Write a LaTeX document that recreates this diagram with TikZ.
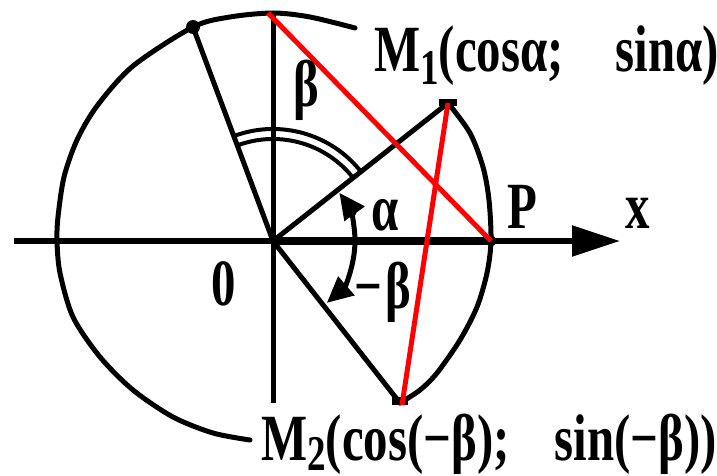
\documentclass[tikz,border=0pt]{standalone}
\usepackage{fontspec}
\setmainfont[FakeStretch=0.74]{Liberation Serif}
\usetikzlibrary{arrows.meta}
\begin{document}
\begin{tikzpicture}[x=1pt,y=-1pt, line join=round,
  ln/.style={line width=5pt, line cap=round},
  redln/.style={red, line width=5pt, line cap=butt},
  lab/.style={anchor=base west, inner sep=0pt, font=\fontsize{66}{78}\selectfont\bfseries},
  tip/.style={-{Triangle[length=26pt,width=24pt]}},
  bigtip/.style={-{Triangle[length=48pt,width=30pt]}},
  dot/.style={circle, fill, inner sep=0pt, minimum size=14pt}]
\useasboundingbox (0,0) rectangle (717,476);
\begin{scope}
\clip (0,0) rectangle (717,476);
% points
\coordinate (O) at (273,241);
\coordinate (P) at (491,241);
\coordinate (M1) at (448,103);
\coordinate (M2) at (400,403);
\coordinate (B) at (193,27);
\coordinate (T) at (273,13);
\coordinate (Tr) at (268,13);
\coordinate (Xl) at (14,241);
\coordinate (Xr) at (620,241);
\coordinate (Yb) at (273,403);
\coordinate (M2r) at (402,405);
% big circle arc
\draw[ln] plot[smooth] coordinates {(355,28) (310,17) (273,13) (230,17) (193,27) (133,66) (97,106) (77,140) (64,177) (58,217) (57,241) (60,273) (73,317) (100,357) (133,390) (173,417) (213,433) (250,440)};
% right arc M1 - P - M2
\draw[ln] plot[smooth] coordinates {(448,103) (470,133) (483,167) (489,200) (491,241) (487,273) (477,307) (460,340) (437,373) (420,390) (400,403)};
% axes
\draw[line width=5.5pt] (Xl) -- (O);
\draw[line width=8pt] (O) -- (P);
\draw[line width=5.5pt, bigtip] (P) -- (Xr);
\draw[line width=5pt] (T) -- (Yb);
% radii
\draw[ln] (O) -- (M1);
\draw[ln] (O) -- (M2);
\draw[ln] (O) -- (B);
% double arc beta
\draw[line width=4pt] ([shift={(-38:112)}]O) arc[start angle=-38, end angle=-110, radius=112];
\draw[line width=4pt] ([shift={(-38:102)}]O) arc[start angle=-38, end angle=-110, radius=102];
% alpha and -beta arcs
\draw[ln, tip] ([shift={(0:82)}]O) arc[start angle=0, end angle=-36, radius=82];
\draw[ln, tip] ([shift={(0:82)}]O) arc[start angle=0, end angle=49, radius=82];
% dots
\node[dot] (Bd) at (B) {};
\node[circle, fill, inner sep=0pt, minimum size=11pt] (Pd) at (P) {};
\fill (439,99) rectangle (457,106);
\fill (392,397) rectangle (408,405);
% red lines
\draw[redln] (Tr) -- (P);
\draw[redln] (M1) -- (M2r);
% labels
\node[lab] (Ltop) at (-30,-14) {M(cos(α+β);\hspace{0.4em} sin(α+β))};
\node[lab] (L1) at (374,72) {M\raisebox{-13pt}{\fontsize{50}{50}\selectfont\bfseries 1}(cosα;\hspace{0.6em} sinα)};
\node[lab, fill=white, inner sep=2pt] (L2) at (259,460) {M\raisebox{-10pt}{\fontsize{50}{50}\selectfont\bfseries 2}(cos(−β);\hspace{0.5em} sin(−β))};
\node[lab] (Lb) at (293,107) {β};
\node[lab] (La) at (371,230) {α};
\node[lab] (LP) at (507,228) {P};
\node[lab] (Lx) at (625,228) {x};
\node[lab] (L0) at (211,305) {0};
\node[lab] (Lmb) at (354,308) {−\hspace{3pt}β};
\end{scope}
\end{tikzpicture}
\end{document}
